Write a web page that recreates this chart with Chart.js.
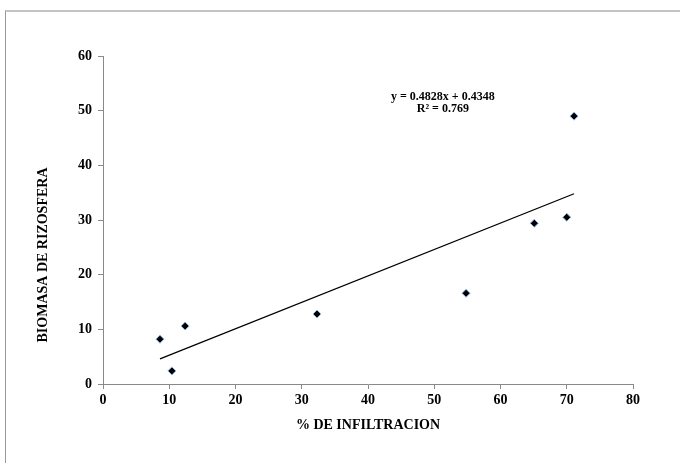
<!DOCTYPE html>
<html>
<head>
<meta charset="utf-8">
<script src="https://cdn.jsdelivr.net/npm/chart.js@4.4.1/dist/chart.umd.min.js"></script>
<style>
    html, body { margin: 0; padding: 0; background: #fff; }
    #wrap { position: relative; width: 680px; height: 463px; overflow: hidden; }
    #frame { position: absolute; left: 5px; top: 10px; width: 700px; height: 500px;
             border-top: 2px solid #c4c4c4; border-left: 1px solid #9a9a9a; }
    canvas { position: absolute; left: 0; top: 0; }
</style>
</head>
<body>
<div id="wrap">
    <div id="frame"></div>
    <canvas id="chart" width="680" height="463"></canvas>
</div>
<script>
// values
const infiltracion = [8.6, 10.4, 12.4, 32.3, 54.8, 65.1, 70.0, 71.1];
const biomasa = [8.2, 2.4, 10.6, 12.8, 16.6, 29.4, 30.5, 49.0];

// trend line end points (as drawn)
const trendX = [8.6, 71.1];
const trendY = [4.6, 34.8];

const xTicks = [0, 10, 20, 30, 40, 50, 60, 70, 80];
const yTicks = [0, 10, 20, 30, 40, 50, 60];

const eqLines = ['y = 0.4828x + 0.4348', 'R\u00b2 = 0.769'];
const yTitle = 'BIOMASA DE RIZOSFERA';

const axisGray = '#8a8a8a';
const serif = "'Liberation Serif', 'Times New Roman', serif";

// equation label and y title (the original title sits below the axis middle)
const extraText = {
    id: 'extraText',
    afterDatasetsDraw(chart) {
        const ctx = chart.ctx;
        const x = chart.scales.x.getPixelForValue(51.3);
        const y = chart.scales.y.getPixelForValue(52.5);
        ctx.save();
        ctx.font = 'bold 12px ' + serif;
        ctx.fillStyle = '#000';
        ctx.textAlign = 'center';
        ctx.textBaseline = 'middle';
        eqLines.forEach((line, i) => ctx.fillText(line, x, y + i * 12));

        ctx.font = 'bold 14px ' + serif;
        ctx.translate(43, 255);
        ctx.rotate(-Math.PI / 2);
        ctx.fillText(yTitle, 0, 0);
        ctx.restore();
    }
};

new Chart(document.getElementById('chart').getContext('2d'), {
    type: 'scatter',
    data: {
        datasets: [
            {
                label: 'Biomasa',
                data: infiltracion.map((v, i) => ({ x: v, y: biomasa[i] })),
                pointStyle: 'rectRot',
                pointRadius: 4,
                backgroundColor: '#000',
                borderColor: '#8fb4e3',
                borderWidth: 1
            },
            {
                label: 'Lineal',
                type: 'line',
                data: trendX.map((v, i) => ({ x: v, y: trendY[i] })),
                borderColor: '#000',
                borderWidth: 1.3,
                pointRadius: 0,
                fill: false
            }
        ]
    },
    options: {
        responsive: false,
        animation: false,
        layout: { padding: { top: 56, right: 47, bottom: 0, left: 0 } },
        plugins: {
            legend: { display: false },
            tooltip: { enabled: false }
        },
        scales: {
            x: {
                type: 'linear',
                min: 0,
                max: 80,
                afterBuildTicks: (scale) => { scale.ticks = xTicks.map(v => ({ value: v })); },
                afterFit: (scale) => { scale.height = 79; },
                grid: { drawOnChartArea: false, drawTicks: true, tickLength: 5, color: axisGray },
                border: { display: true, color: axisGray, width: 1 },
                ticks: { color: '#000', padding: 3, font: { family: serif, size: 14, weight: 'bold' } },
                title: {
                    display: true,
                    text: '% DE INFILTRACION',
                    color: '#000',
                    padding: { top: 0, bottom: 29 },
                    font: { family: serif, size: 14, weight: 'bold' }
                }
            },
            y: {
                type: 'linear',
                min: 0,
                max: 60,
                afterBuildTicks: (scale) => { scale.ticks = yTicks.map(v => ({ value: v })); },
                afterFit: (scale) => { scale.width = 103; },
                grid: { drawOnChartArea: false, drawTicks: true, tickLength: 5, color: axisGray },
                border: { display: true, color: axisGray, width: 1 },
                ticks: { color: '#000', padding: 6, font: { family: serif, size: 14, weight: 'bold' } },
                title: { display: false }
            }
        }
    },
    plugins: [extraText]
});
</script>
</body>
</html>
